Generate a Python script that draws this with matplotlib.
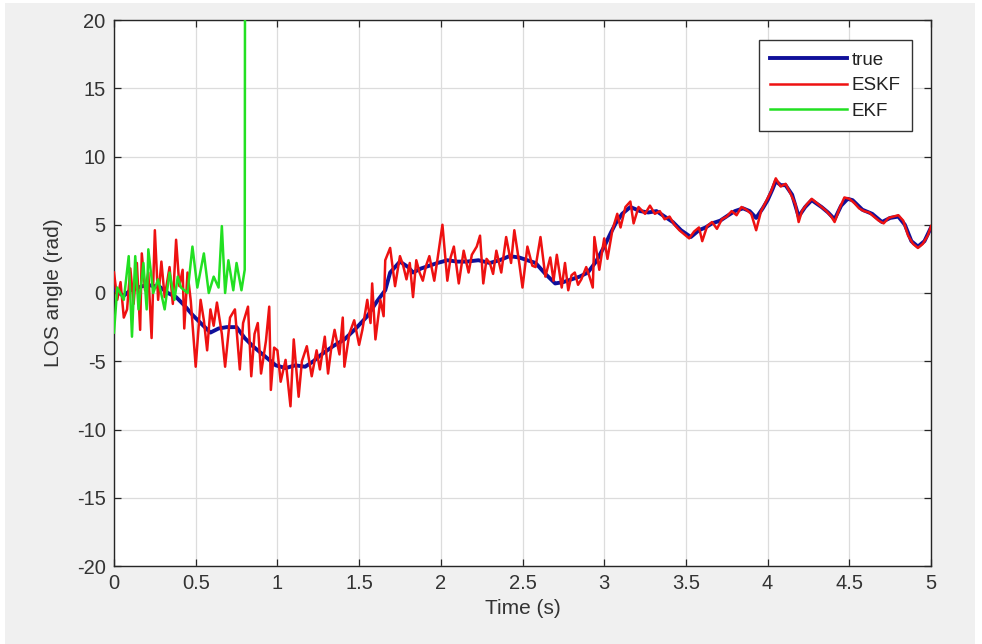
import matplotlib
matplotlib.use("Agg")
import matplotlib.pyplot as plt
from matplotlib.patches import Rectangle

# ---- data ---------------------------------------------------------------
t_true = [0.00, 0.03, 0.06, 0.10, 0.15, 0.20, 0.25, 0.28, 0.33, 0.38, 0.43, 0.48,
          0.53, 0.59, 0.64, 0.69, 0.75, 0.80, 0.85, 0.92, 0.99, 1.05, 1.11, 1.17,
          1.22, 1.27, 1.34, 1.41, 1.48, 1.55, 1.61, 1.66, 1.69, 1.75, 1.80, 1.83,
          1.88, 1.93, 1.98, 2.04, 2.10, 2.16, 2.23, 2.30, 2.36, 2.42, 2.48, 2.53,
          2.58, 2.64, 2.70, 2.75, 2.80, 2.85, 2.90, 2.95, 3.00, 3.04, 3.07, 3.11,
          3.16, 3.22, 3.27, 3.32, 3.37, 3.42, 3.47, 3.53, 3.58, 3.62, 3.66, 3.71,
          3.76, 3.80, 3.85, 3.89, 3.93, 3.97, 4.00, 4.03, 4.05, 4.08, 4.11, 4.15,
          4.19, 4.23, 4.27, 4.33, 4.37, 4.41, 4.45, 4.49, 4.52, 4.58, 4.64, 4.70,
          4.75, 4.80, 4.84, 4.88, 4.92, 4.96, 5.00]
los_true = [0.3, 0.0, -0.2, 0.2, 0.4, 0.6, 0.5, 0.45, 0.0, -0.3, -0.9, -1.6,
            -2.2, -2.9, -2.6, -2.5, -2.5, -3.3, -3.9, -4.6, -5.3, -5.5, -5.3, -5.4,
            -5.0, -4.5, -3.9, -3.4, -2.6, -1.7, -0.6, 0.2, 1.5, 2.3, 1.9, 1.5,
            1.8, 2.0, 2.2, 2.4, 2.3, 2.3, 2.4, 2.2, 2.4, 2.7, 2.6, 2.4,
            2.2, 1.4, 0.7, 0.8, 1.0, 1.2, 1.5, 2.3, 3.4, 4.4, 5.1, 5.8,
            6.3, 6.0, 5.9, 6.0, 5.6, 5.2, 4.6, 4.1, 4.6, 4.8, 5.1, 5.3,
            5.7, 6.0, 6.2, 6.0, 5.5, 6.2, 6.8, 7.6, 8.2, 7.9, 7.9, 7.2,
            5.6, 6.3, 6.8, 6.3, 5.9, 5.4, 6.4, 6.9, 6.8, 6.1, 5.8, 5.2,
            5.5, 5.6, 5.0, 3.8, 3.4, 3.8, 4.8]

t_eskf = [0.00, 0.02, 0.04, 0.06, 0.08, 0.10, 0.12, 0.14, 0.16, 0.17, 0.19, 0.21,
          0.23, 0.25, 0.27, 0.29, 0.31, 0.34, 0.36, 0.38, 0.40, 0.42, 0.43, 0.45,
          0.47, 0.50, 0.53, 0.55, 0.57, 0.59, 0.61, 0.63, 0.66, 0.68, 0.71, 0.74,
          0.77, 0.79, 0.82, 0.84, 0.86, 0.88, 0.90, 0.93, 0.95, 0.96, 0.98, 1.00,
          1.02, 1.05, 1.08, 1.10, 1.13, 1.15, 1.18, 1.21, 1.24, 1.26, 1.29, 1.31,
          1.33, 1.35, 1.38, 1.40, 1.41, 1.44, 1.47, 1.50, 1.52, 1.55, 1.57, 1.58,
          1.60, 1.63, 1.65, 1.66, 1.69, 1.72, 1.75, 1.77, 1.79, 1.81, 1.83, 1.85,
          1.87, 1.89, 1.91, 1.93, 1.96, 1.98, 2.01, 2.04, 2.06, 2.08, 2.11, 2.14,
          2.17, 2.19, 2.22, 2.24, 2.26, 2.28, 2.30, 2.32, 2.34, 2.37, 2.40, 2.43,
          2.45, 2.48, 2.50, 2.53, 2.56, 2.58, 2.61, 2.64, 2.67, 2.69, 2.71, 2.74,
          2.76, 2.78, 2.80, 2.82, 2.84, 2.86, 2.89, 2.91, 2.93, 2.94, 2.97, 3.00,
          3.02, 3.05, 3.08, 3.10, 3.13, 3.16, 3.18, 3.21, 3.25, 3.28, 3.31, 3.34,
          3.37, 3.40, 3.43, 3.46, 3.49, 3.52, 3.55, 3.58, 3.60, 3.63, 3.66, 3.69,
          3.72, 3.75, 3.78, 3.81, 3.84, 3.87, 3.90, 3.93, 3.96, 3.99, 4.02, 4.05,
          4.08, 4.11, 4.14, 4.17, 4.19, 4.21, 4.24, 4.27, 4.30, 4.33, 4.36, 4.39,
          4.41, 4.44, 4.47, 4.50, 4.53, 4.56, 4.59, 4.62, 4.65, 4.68, 4.71, 4.74,
          4.77, 4.80, 4.83, 4.86, 4.89, 4.92, 4.95, 4.98, 5.00]
los_eskf = [1.5, -0.5, 0.8, -1.8, -1.2, 1.8, -0.8, 2.2, -2.7, 2.9, 0.2, 1.5,
            -3.3, 4.6, -0.5, 2.3, -0.3, 1.9, -0.8, 3.9, 0.5, 1.7, -2.6, 1.5,
            -0.6, -5.4, -0.5, -2.0, -4.2, -1.2, -2.4, -0.7, -3.0, -5.4, -1.8, -1.2,
            -5.6, -2.2, -1.0, -6.1, -3.0, -2.2, -5.9, -3.5, -1.0, -7.1, -4.0, -4.2,
            -6.5, -4.9, -8.3, -3.4, -7.6, -5.0, -3.9, -6.1, -4.2, -5.6, -3.2, -5.9,
            -4.0, -2.7, -4.5, -1.8, -5.4, -3.0, -2.0, -3.8, -2.7, -0.5, -2.2, 0.7,
            -3.4, -0.5, -1.7, 2.4, 3.3, 0.5, 2.7, 2.0, 1.0, 2.2, -0.3, 2.4,
            1.5, 0.9, 2.0, 2.7, 0.9, 2.5, 5.0, 0.9, 2.6, 3.4, 0.7, 3.1,
            1.5, 2.8, 3.4, 4.2, 0.7, 2.5, 2.2, 1.4, 3.1, 1.5, 4.1, 2.2,
            4.6, 2.2, 0.4, 3.4, 2.0, 1.9, 4.1, 1.2, 2.6, 0.9, 2.8, 0.4,
            2.2, 0.2, 1.3, 1.5, 0.6, 1.0, 1.9, 1.2, 0.4, 4.1, 1.7, 4.0,
            2.5, 4.6, 5.8, 4.8, 6.3, 6.7, 5.1, 6.3, 5.8, 6.4, 5.8, 6.0,
            5.4, 5.6, 5.0, 4.6, 4.3, 4.0, 4.5, 4.8, 3.8, 4.9, 5.2, 4.7,
            5.4, 5.6, 6.0, 5.7, 6.3, 6.1, 5.8, 4.6, 6.0, 6.7, 7.4, 8.4,
            7.8, 8.0, 7.3, 6.5, 5.2, 6.0, 6.5, 6.9, 6.6, 6.3, 6.0, 5.6,
            5.2, 6.2, 7.0, 6.9, 6.6, 6.2, 6.0, 5.9, 5.6, 5.3, 5.1, 5.5,
            5.6, 5.7, 5.3, 4.2, 3.6, 3.3, 3.6, 4.2, 4.9]

t_ekf = [0.00, 0.02, 0.06, 0.09, 0.11, 0.13, 0.15, 0.18, 0.20, 0.21, 0.24, 0.27,
         0.31, 0.34, 0.37, 0.39, 0.41, 0.45, 0.48, 0.51, 0.55, 0.58, 0.61, 0.64,
         0.66, 0.68, 0.70, 0.73, 0.75, 0.78, 0.80, 0.805]
los_ekf = [-2.9, 0.4, -0.5, 2.7, -3.2, 2.7, -1.2, 2.2, -1.2, 3.2, 0.0, 1.0,
           -1.2, 1.5, -0.5, 1.2, 0.4, 0.0, 3.4, 0.4, 2.9, 0.0, 1.2, 0.4,
           4.9, 0.0, 2.4, 0.2, 2.2, 0.2, 1.7, 60.0]

x_ticks = [0, 0.5, 1, 1.5, 2, 2.5, 3, 3.5, 4, 4.5, 5]
x_tick_labels = ["0", "0.5", "1", "1.5", "2", "2.5", "3", "3.5", "4", "4.5", "5"]
y_ticks = [-20, -15, -10, -5, 0, 5, 10, 15, 20]

# ---- figure -------------------------------------------------------------
plt.rcParams["font.family"] = ["Liberation Sans", "DejaVu Sans"]
plt.rcParams["axes.unicode_minus"] = False

W, H = 982, 644
fig = plt.figure(figsize=(W / 100, H / 100), dpi=100, facecolor="#f0f0f0")

# thin white frame around the gray canvas
for (x0, y0, w, h) in [(0, 0, 5 / W, 1), (1 - 7 / W, 0, 7 / W, 1),
                       (0, 1 - 3 / H, 1, 3 / H)]:
    fig.patches.append(Rectangle((x0, y0), w, h, transform=fig.transFigure,
                                 facecolor="white", edgecolor="none", zorder=0))

ax = fig.add_axes([114 / W, 1 - 566 / H, (931 - 114) / W, (566 - 20) / H])
ax.set_facecolor("white")

ax.plot(t_true, los_true, color="#10109a", lw=2.8, label="true", zorder=3)
ax.plot(t_eskf, los_eskf, color="#ee1111", lw=1.8, label="ESKF", zorder=4)
ax.plot(t_ekf, los_ekf, color="#22e022", lw=1.8, label="EKF", zorder=5)

ax.set_xlim(0, 5)
ax.set_ylim(-20, 20)
ax.set_xticks(x_ticks)
ax.set_xticklabels(x_tick_labels)
ax.set_yticks(y_ticks)

ax.grid(True, color="#dcdcdc", lw=0.9)
ax.set_axisbelow(True)
ax.tick_params(direction="in", length=5, width=0.9, colors="#262626",
               labelsize=14.5, top=True, right=True, pad=6)
for lab in ax.get_xticklabels() + ax.get_yticklabels():
    lab.set_color("#333333")
for sp in ax.spines.values():
    sp.set_color("#262626")
    sp.set_linewidth(1.0)

ax.set_xlabel("Time (s)", fontsize=15, color="#333333", labelpad=4)
ax.set_ylabel("LOS angle (rad)", fontsize=15, color="#333333", labelpad=10)

leg = ax.legend(loc="upper right", bbox_to_anchor=(0.977, 0.963), fontsize=13.5,
                fancybox=False, framealpha=1, edgecolor="#333333",
                handlelength=4.1, handletextpad=0.25, borderpad=0.6,
                labelspacing=0.45, borderaxespad=0)
leg.get_frame().set_linewidth(1.0)
for txt in leg.get_texts():
    txt.set_color("#222222")

fig.savefig("out.png", dpi=100, facecolor=fig.get_facecolor())
